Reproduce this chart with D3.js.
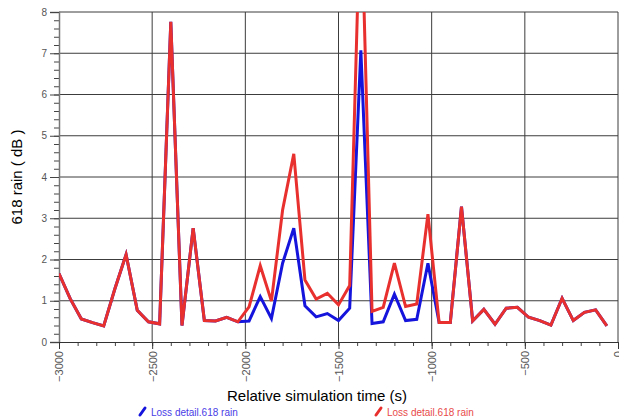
<!DOCTYPE html>
<html lang="en">
    <head>
        <meta charset="utf-8">
        <title>618 rain loss</title>
        <script src="https://d3js.org/d3.v7.min.js"></script>
        <style>
body{margin:0;background:#fff;}
text{font-family:"Liberation Sans",Arial,sans-serif;}
        </style>
    </head>
<body>
    <div id="chart"></div>
    <script type="text/javascript">
var w = 619;
var h = 418;
// relative simulation time (s)
var times = [-3000,-2940,-2880,-2820,-2760,-2700,-2640,-2580,-2520,-2460,
             -2400,-2340,-2280,-2220,-2160,-2100,-2040,-1980,-1920,-1860,
             -1800,-1740,-1680,-1620,-1560,-1500,-1440,-1380,-1320,-1260,
             -1200,-1140,-1080,-1020,-960,-900,-840,-780,-720,-660,
             -600,-540,-480,-420,-360,-300,-240,-180,-120,-60];
// loss detail, blue series
var blueLoss = [1.66,1.05,0.56,0.47,0.39,1.29,2.12,0.77,0.49,0.44,
                7.76,0.40,2.76,0.52,0.51,0.60,0.49,0.51,1.10,0.57,
                1.91,2.76,0.88,0.61,0.69,0.52,0.82,7.07,0.45,0.49,
                1.16,0.52,0.55,1.91,0.47,0.47,3.28,0.51,0.79,0.43,
                0.82,0.84,0.60,0.52,0.41,1.06,0.52,0.72,0.78,0.39];
// loss detail, red series
var redLoss = [1.66,1.05,0.56,0.47,0.39,1.29,2.12,0.77,0.49,0.44,
               7.76,0.40,2.76,0.52,0.51,0.60,0.49,0.85,1.85,0.99,
               3.20,4.56,1.50,1.04,1.18,0.90,1.37,11.0,0.74,0.84,
               1.91,0.86,0.92,3.10,0.47,0.47,3.28,0.51,0.79,0.43,
               0.82,0.84,0.60,0.52,0.41,1.06,0.52,0.72,0.78,0.39];
var xTicks = [-3000,-2500,-2000,-1500,-1000,-500,0];
var yTicks = [0,1,2,3,4,5,6,7,8];
var legendNames = ["Loss detail.618 rain","Loss detail.618 rain"];
var lineColors = ["#1414dc","#e8302e"];
var legendColors = ["#4a3ce6","#e84a4a"];

var plotLeft = 59, plotRight = 618, plotTop = 12, plotBottom = 342;

var svg = d3.select("#chart").append("svg")
    .attr("width", w).attr("height", h);

var x = d3.scaleLinear().domain([-3000, 0]).range([plotLeft, plotRight]);
var y = d3.scaleLinear().domain([0, 8]).range([plotBottom, plotTop]);

//grid
svg.append("g").selectAll("line")
    .data(yTicks.filter(function(d){return d > 0;}))
    .enter().append("line")
    .attr("x1", plotLeft).attr("x2", plotRight)
    .attr("y1", function(d){return y(d);}).attr("y2", function(d){return y(d);})
    .attr("stroke", "#3c3c3c").attr("stroke-width", 1);
svg.append("g").selectAll("line")
    .data(xTicks.filter(function(d){return d > -3000;}))
    .enter().append("line")
    .attr("y1", plotTop).attr("y2", plotBottom)
    .attr("x1", function(d){return x(d);}).attr("x2", function(d){return x(d);})
    .attr("stroke", "#3c3c3c").attr("stroke-width", 1);

// minor ticks
var yMinor = svg.append("g").attr("transform", "translate(" + plotLeft + ",0)")
    .call(d3.axisLeft(y).ticks(40).tickSize(5).tickFormat(""));
yMinor.select(".domain").remove();
yMinor.selectAll("line").attr("stroke", "#444");
var xMinor = svg.append("g").attr("transform", "translate(0," + plotBottom + ")")
    .call(d3.axisBottom(x).ticks(30).tickSize(4).tickFormat(""));
xMinor.select(".domain").remove();
xMinor.selectAll("line").attr("stroke", "#444");

// major axes
var yAxis = svg.append("g").attr("transform", "translate(" + plotLeft + ",0)")
    .call(d3.axisLeft(y).tickValues(yTicks).tickSize(9).tickPadding(3).tickFormat(d3.format("d")));
yAxis.select(".domain").attr("stroke", "#777").attr("stroke-width", 1.5);
yAxis.selectAll("line").attr("stroke", "#444");
yAxis.selectAll("text").attr("fill", "#555").style("font-size", "10px");

var xAxis = svg.append("g").attr("transform", "translate(0," + plotBottom + ")")
    .call(d3.axisBottom(x).tickValues(xTicks).tickSize(7).tickFormat(d3.format("d")));
xAxis.select(".domain").attr("stroke", "#333");
xAxis.selectAll("line").attr("stroke", "#333");
xAxis.selectAll("text")
    .attr("fill", "#555").style("font-size", "11px")
    .attr("text-anchor", "end")
    .attr("transform", "rotate(-90)")
    .attr("x", -9).attr("y", 0).attr("dy", "0.35em");

// lines
svg.append("clipPath").attr("id", "plotClip")
    .append("rect").attr("x", plotLeft).attr("y", plotTop)
    .attr("width", plotRight - plotLeft + 2).attr("height", plotBottom - plotTop);

var line = d3.line()
    .x(function(d){return x(d[0]);})
    .y(function(d){return y(d[1]);});

var series = [blueLoss, redLoss];
svg.append("g").attr("clip-path", "url(#plotClip)")
    .selectAll("path").data(series).enter().append("path")
    .attr("d", function(s){return line(times.map(function(t, i){return [t, s[i]];}));})
    .attr("fill", "none")
    .attr("stroke", function(s, i){return lineColors[i];})
    .attr("stroke-width", 3)
    .attr("stroke-linejoin", "miter");

// titles
svg.append("text")
    .attr("transform", "translate(22," + ((plotTop + plotBottom) / 2) + ") rotate(-90)")
    .attr("text-anchor", "middle")
    .style("font-size", "15px").attr("fill", "#000")
    .text("618 rain ( dB )");
svg.append("text")
    .attr("x", 317).attr("y", 401)
    .attr("text-anchor", "middle")
    .style("font-size", "15px").attr("fill", "#000")
    .text("Relative simulation time (s)");

// legend
var legendX = [140, 376];
var lg = svg.append("g").selectAll("g").data(legendNames).enter().append("g")
    .attr("transform", function(d, i){return "translate(" + legendX[i] + ",412)";});
lg.append("line")
    .attr("x1", 0).attr("y1", 3).attr("x2", 5).attr("y2", -4)
    .attr("stroke", function(d, i){return lineColors[i];})
    .attr("stroke-width", 3).attr("stroke-linecap", "round");
lg.append("text")
    .attr("x", 11).attr("y", 3.5)
    .style("font-size", "10px")
    .attr("fill", function(d, i){return legendColors[i];})
    .text(function(d){return d;});
    </script>
</body>
</html>
